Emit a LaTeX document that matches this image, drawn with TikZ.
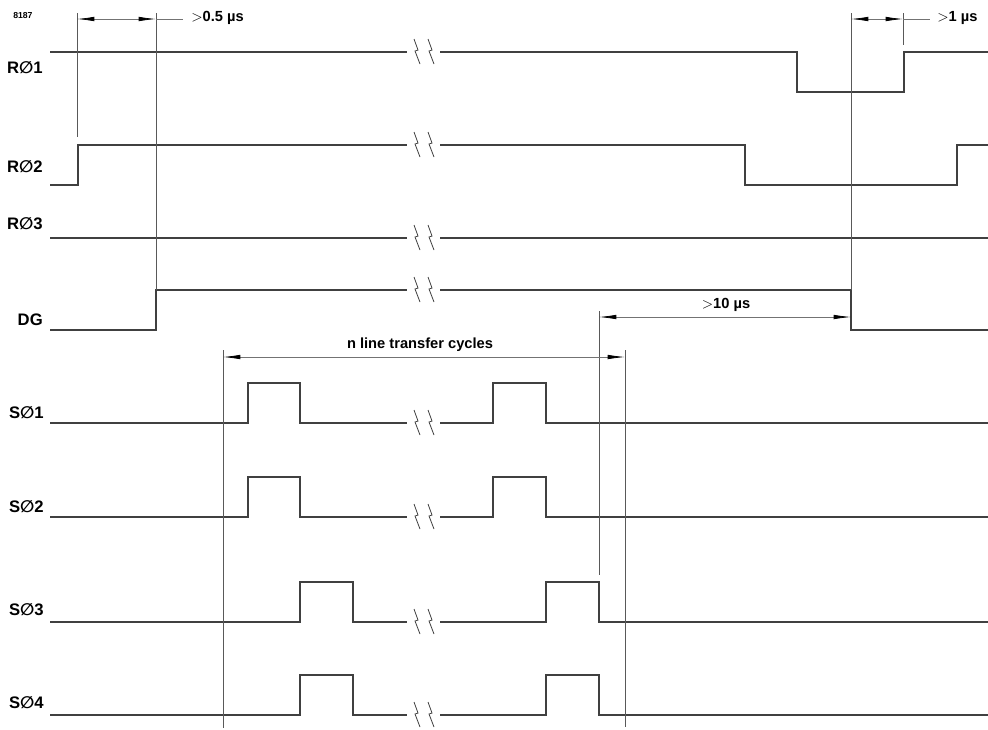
\documentclass[tikz,border=0pt]{standalone}
\usepackage{fontspec}
\setmainfont{Liberation Sans}
\newfontfamily\dvsfont{DejaVu Sans}
\usetikzlibrary{arrows.meta}
\newcommand{\slz}{{\dvsfont ∅}}
\begin{document}
\begin{tikzpicture}[x=0.75pt,y=-0.75pt,
  wave/.style={line width=1.1pt,black!75,line join=miter},
  ext/.style={line width=0.55pt,black!65},
  dimline/.style={line width=0.55pt,black!55,{Latex[length=13pt,width=3.4pt,color=black]}-{Latex[length=13pt,width=3.4pt,color=black]}},
  sig/.style={anchor=east,font=\bfseries\fontsize{12.5}{14}\selectfont,inner sep=0pt},
  dimtext/.style={font=\bfseries\fontsize{11}{13}\selectfont,inner sep=0pt},
  brk/.pic={\draw[line width=0.6pt,black!75] (-11,-13)--(-7,-2)--(-10,-1)--(-5,12);
            \draw[line width=0.6pt,black!75] (3,-13)--(7,-2)--(4,-1)--(9,12);}
]
\useasboundingbox (0,0) rectangle (988,729);

% figure number
\node[font=\bfseries\fontsize{6.5}{7}\selectfont,inner sep=0pt,anchor=west] (fig) at (13,16) {8187};

% signal labels
\node[sig] (lr1) at (43,68) {R\slz1};
\node[sig] (lr2) at (43,167) {R\slz2};
\node[sig] (lr3) at (43,224) {R\slz3};
\node[sig] (ldg) at (43,320) {DG};
\node[sig] (ls1) at (44,413) {S\slz1};
\node[sig] (ls2) at (44,507) {S\slz2};
\node[sig] (ls3) at (44,610) {S\slz3};
\node[sig] (ls4) at (44,703) {S\slz4};

% waveforms
\draw[wave] (50,52)--(407,52);
\draw[wave] (440,52)--(797,52)--(797,92)--(904,92)--(904,52)--(988,52);
\pic at (425,52) {brk};

\draw[wave] (50,185)--(78,185)--(78,145)--(407,145);
\draw[wave] (440,145)--(745,145)--(745,185)--(957,185)--(957,145)--(988,145);
\pic at (425,145) {brk};

\draw[wave] (50,238)--(407,238);
\draw[wave] (440,238)--(988,238);
\pic at (425,238) {brk};

\draw[wave] (50,330)--(156,330)--(156,290)--(407,290);
\draw[wave] (440,290)--(851,290)--(851,330)--(988,330);
\pic at (425,290) {brk};

\foreach \lo/\hi in {423/383, 517/477}{
  \draw[wave] (50,\lo)--(248,\lo)--(248,\hi)--(300,\hi)--(300,\lo)--(407,\lo);
  \draw[wave] (440,\lo)--(493,\lo)--(493,\hi)--(546,\hi)--(546,\lo)--(988,\lo);
  \pic at (425,\lo) {brk};
}
\foreach \lo/\hi in {622/582, 715/675}{
  \draw[wave] (50,\lo)--(300,\lo)--(300,\hi)--(353,\hi)--(353,\lo)--(407,\lo);
  \draw[wave] (440,\lo)--(546,\lo)--(546,\hi)--(599,\hi)--(599,\lo)--(988,\lo);
  \pic at (425,\lo) {brk};
}

% extension lines
\coordinate (e1t) at (77,13);  \coordinate (e1b) at (77,137);
\coordinate (e2t) at (156,13); \coordinate (e2b) at (156,290);
\coordinate (e3t) at (851,13); \coordinate (e3b) at (851,290);
\coordinate (e4t) at (903,13); \coordinate (e4b) at (903,45);
\coordinate (e5t) at (599,311); \coordinate (e5b) at (599,575);
\coordinate (e6t) at (223,350); \coordinate (e6b) at (223,728);
\coordinate (e7t) at (625,350); \coordinate (e7b) at (625,727);
\foreach \e in {1,...,7}{\draw[ext] (e\e t)--(e\e b);}

% dimensions
\coordinate (d1a) at (77,19);  \coordinate (d1b) at (156,19); \coordinate (d1c) at (183,19);
\draw[dimline] (d1a)--(d1b);
\draw[ext,black!55] (d1b)--(d1c);
\node[dimtext,anchor=west] (t1) at (191,18) {$>$0.5 µs};

\coordinate (d2a) at (851,19); \coordinate (d2b) at (903,19); \coordinate (d2c) at (930,19);
\draw[dimline] (d2a)--(d2b);
\draw[ext,black!55] (d2b)--(d2c);
\node[dimtext,anchor=west] (t2) at (937,18) {$>$1 µs};

\coordinate (d3a) at (599,317); \coordinate (d3b) at (851,317);
\draw[dimline] (d3a)--(d3b);
\node[dimtext] (t3) at (726,305) {$>$10 µs};

\coordinate (d4a) at (223,357); \coordinate (d4b) at (625,357);
\draw[dimline] (d4a)--(d4b);
\node[dimtext] (t4) at (420,345) {n line transfer cycles};
\end{tikzpicture}
\end{document}
